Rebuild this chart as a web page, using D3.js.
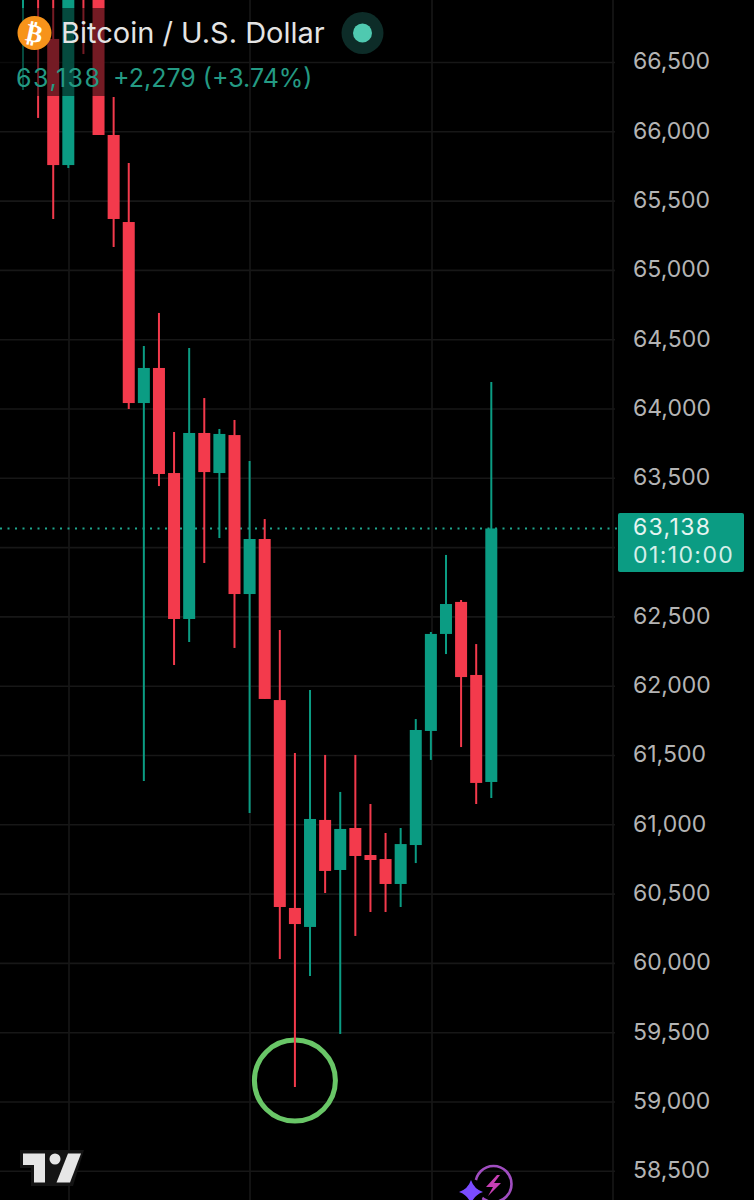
<!DOCTYPE html>
<html><head><meta charset="utf-8">
<script src="https://cdn.jsdelivr.net/npm/d3@7"></script>
<style>html,body{margin:0;padding:0;background:#000}svg{display:block}text{font-family:Inter,"Noto Sans",sans-serif}</style>
</head><body><svg id="c" width="754" height="1200"></svg>
<script>
const priceTicks=[58500,59000,59500,60000,60500,61000,61500,62000,62500,63000,63500,64000,64500,65000,65500,66000,66500];
const hiddenTick=63000; // sits behind the last-price label in the reference
const opens =[67050,67150,66670,65760,67300,67100,65977,65349,64043,64296,63538,62485,63827,63538,63812,62665,63062,61900,60400,60263,61035,60674,60977,60782,60753,60573,60854,61677,62377,62608,62081,61309];
const closes=[67100,67000,65760,67100,67050,65977,65371,64043,64296,63531,62485,63827,63545,63820,62665,63062,61908,60407,60284,61042,60667,60970,60775,60746,60573,60861,61684,62377,62593,62066,61302,63138];
const highs =[67200,67200,67000,67200,67300,67100,66251,65775,64455,64693,63834,64440,64079,63856,63921,63625,63206,62405,61518,61973,61504,61237,61504,61150,60941,60977,61763,62391,62947,62622,62304,64195];
const lows  =[66302,66100,65371,65739,66561,65977,65169,64000,61316,63444,62153,62319,62889,63069,62276,61085,61908,60032,59108,59909,60508,59491,60198,60371,60371,60407,60724,61468,62232,61561,61150,61193];
const lastPrice=63138, countdown="01:10:00";
const title="Bitcoin / U.S. Dollar", change="+2,279 (+3.74%)";
const markedLow=59108;

const UP="#0b9c83",DOWN="#f33a4c",GRID="#171717";
const svg=d3.select("#c");
svg.append("rect").attr("width",754).attr("height",1200).attr("fill","#000");
const y=d3.scaleLinear().domain([59000,64000]).range([1102,409]);
const x=d3.scaleLinear().domain([0,31]).range([23,491.3]);
const idx=d3.range(opens.length);

// grid
const g=svg.append("g");
g.selectAll("line.h").data(priceTicks).join("line").attr("x1",0).attr("x2",615)
 .attr("y1",d=>y(d)).attr("y2",d=>y(d)).attr("stroke",GRID).attr("stroke-width",1.6);
g.selectAll("line.v").data([69,250,432,613]).join("line").attr("class","v").attr("y1",0).attr("y2",1200)
 .attr("x1",d=>d).attr("x2",d=>d).attr("stroke",GRID).attr("stroke-width",1.6);

// last price dotted line
svg.append("line").attr("x1",0).attr("x2",618).attr("y1",y(lastPrice)).attr("y2",y(lastPrice))
 .attr("stroke","#1fa58d").attr("stroke-width",2).attr("stroke-dasharray","2 5.5");

// ring annotation (under the wick)
svg.append("circle").attr("cx",x(18)).attr("cy",y(markedLow)-6.5).attr("r",40.5)
 .attr("fill","none").attr("stroke","#69c667").attr("stroke-width",5);

// candles
const col=i=>closes[i]>=opens[i]?UP:DOWN;
const cg=svg.append("g");
cg.selectAll("line").data(idx).join("line")
 .attr("x1",i=>x(i)).attr("x2",i=>x(i)).attr("y1",i=>y(highs[i])).attr("y2",i=>y(lows[i]))
 .attr("stroke",col).attr("stroke-width",2);
cg.selectAll("rect").data(idx.filter(i=>i!==0&&i!==1&&i!==4)).join("rect")
 .attr("x",i=>x(i)-6).attr("width",12)
 .attr("y",i=>y(Math.max(opens[i],closes[i])))
 .attr("height",i=>Math.max(3,Math.abs(y(opens[i])-y(closes[i]))))
 .attr("fill",col);

// legend dimming overlay
svg.append("rect").attr("x",0).attr("y",8).attr("width",110).attr("height",88).attr("fill","rgba(0,0,0,0.52)");

// legend
svg.append("circle").attr("cx",34.5).attr("cy",33).attr("r",17).attr("fill","#f7931a");
svg.append("text").attr("x",34.5).attr("y",42).attr("text-anchor","middle").attr("transform","rotate(12 34.5 33)")
 .attr("fill","#fff").attr("font-size",25).attr("font-weight",700).style("font-family","'DejaVu Sans'").text("₿");
svg.append("text").attr("x",61).attr("y",43).attr("fill","#e4e4e4").attr("font-size",29).text(title);
svg.append("circle").attr("cx",362.5).attr("cy",33).attr("r",21).attr("fill","#0d2c28");
svg.append("circle").attr("cx",362.5).attr("cy",33).attr("r",9.5).attr("fill","#4fc9b0");
svg.append("text").attr("x",16).attr("y",86.5).attr("fill","#249a83").attr("font-size",25).attr("letter-spacing",1.5).text(d3.format(",")(lastPrice));
svg.append("text").attr("x",113).attr("y",86.5).attr("fill","#249a83").attr("font-size",25).text(change);

// price axis
const axis=d3.axisRight(y).tickValues(priceTicks.filter(d=>d!==hiddenTick)).tickFormat(d3.format(",")).tickSize(0).tickPadding(0);
const ag=svg.append("g").attr("transform","translate(633,-1)").call(axis);
ag.select(".domain").remove();
ag.selectAll("text").attr("fill","#b4b4b4").attr("font-size",23).style("font-family","Inter");

// last price label
svg.append("rect").attr("x",618).attr("y",513).attr("width",126).attr("height",59).attr("rx",2).attr("fill",UP);
svg.append("text").attr("x",633).attr("y",534.5).attr("fill","#e6f5f1").attr("font-size",23).attr("letter-spacing",1.3).text(d3.format(",")(lastPrice));
svg.append("text").attr("x",633).attr("y",563).attr("fill","#d5efe9").attr("font-size",23).attr("letter-spacing",1.4).text(countdown);

// TradingView logo
svg.append("path").attr("d","M20 1150H84L73 1186H31V1168H20Z").attr("fill","#141414");
const tv=svg.append("g").attr("fill","#e6e6e6");
tv.append("path").attr("d","M23 1153.5H45V1182.5H34V1165H23Z");
tv.append("circle").attr("cx",55).attr("cy",1159).attr("r",5.5);
tv.append("path").attr("d","M68 1153.5H81L70 1182.5H56.5Z");

// assistant icon
svg.append("circle").attr("cx",493.5).attr("cy",1184).attr("r",18).attr("fill","none").attr("stroke","#a04dc0").attr("stroke-width",2.6);
svg.append("path").attr("d","M497 1175L486 1187H493L488 1196L501 1183H494L500 1175Z").attr("fill","#c73fb4");
svg.append("circle").attr("cx",471).attr("cy",1192).attr("r",13).attr("fill","#000");
svg.append("path").attr("d","M471 1180Q474 1189 483 1192Q474 1195 471 1204Q468 1195 459 1192Q468 1189 471 1180Z").attr("fill","#7a4cff");
</script></body></html>
